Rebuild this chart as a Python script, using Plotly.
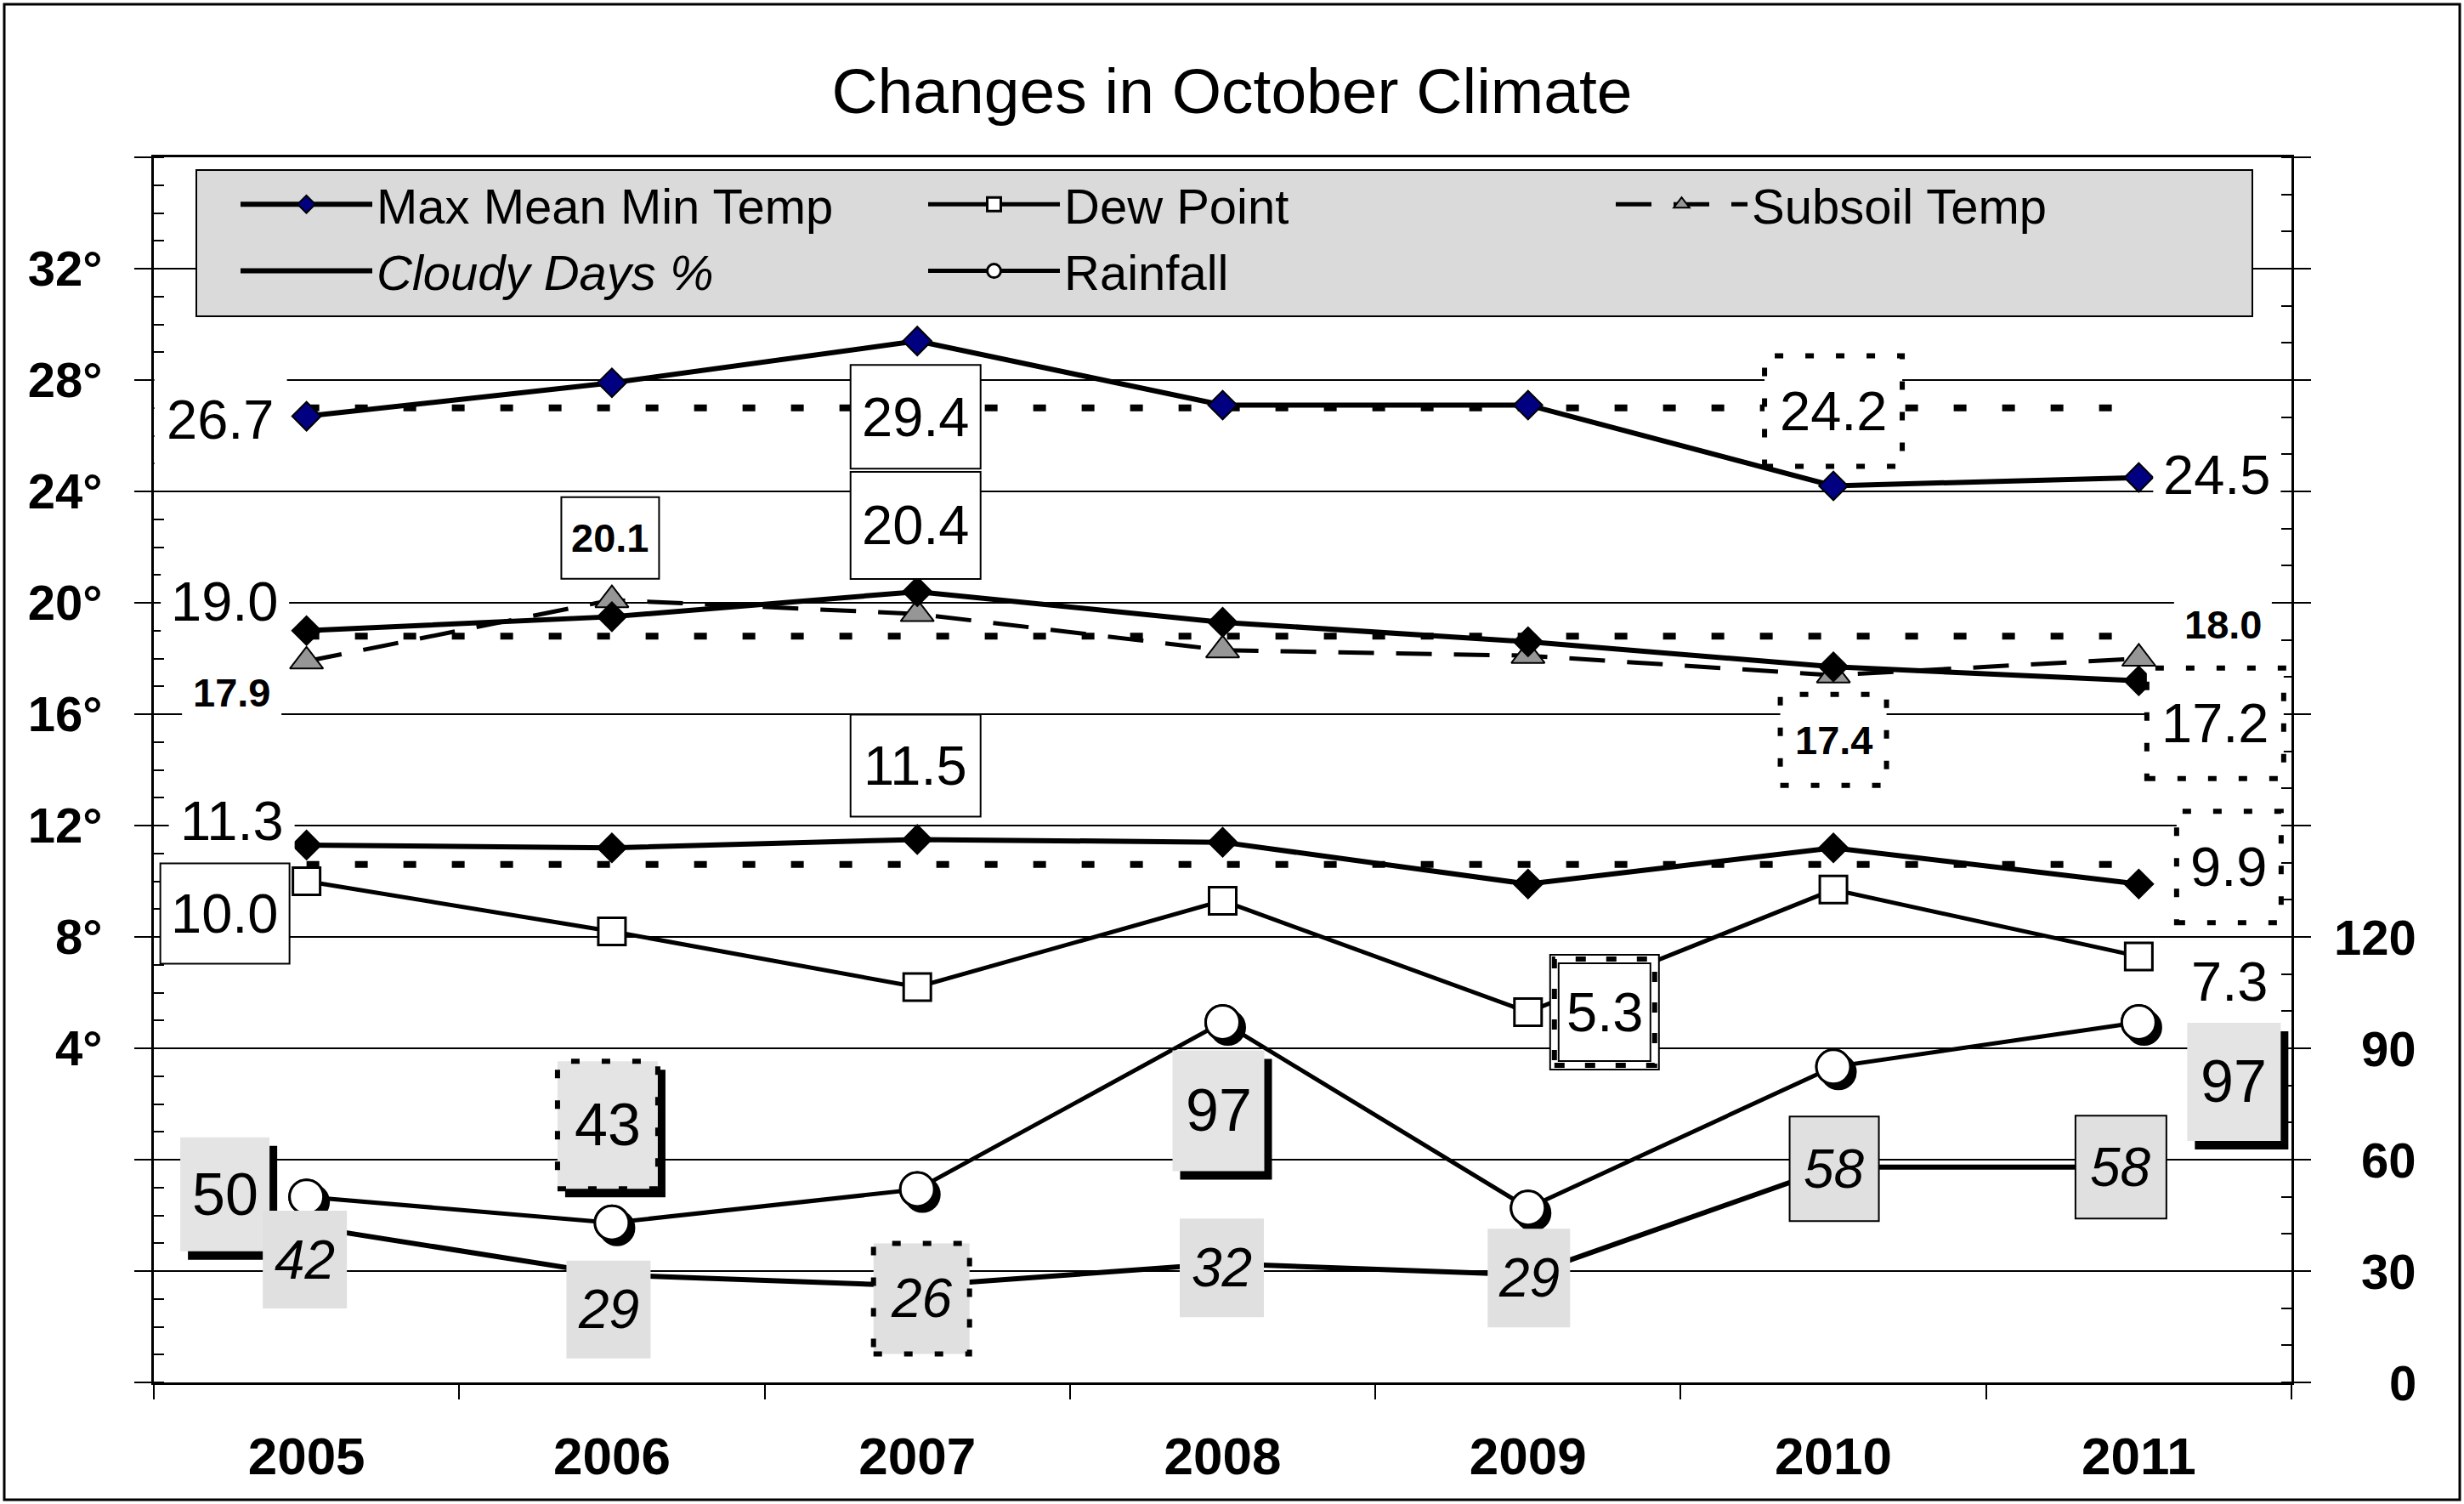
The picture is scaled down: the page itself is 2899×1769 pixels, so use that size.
import plotly.graph_objects as go

# ---------------- data ----------------
years = ["2005", "2006", "2007", "2008", "2009", "2010", "2011"]
max_temp = [26.7, 27.9, 29.4, 27.1, 27.1, 24.2, 24.5]
mean_temp = [19.0, 19.5, 20.4, 19.3, 18.6, 17.7, 17.2]
min_temp = [11.3, 11.2, 11.5, 11.4, 9.9, 11.2, 9.9]
dew_point = [10.0, 8.2, 6.2, 9.3, 5.3, 9.7, 7.3]
subsoil_temp = [17.9, 20.1, 19.6, 18.3, 18.1, 17.4, 18.0]
cloudy_days = [42, 29, 26, 32, 29, 58, 58]
rainfall = [50, 43, 52, 97, 47, 85, 97]
normal_max = 27.0
normal_mean = 18.8
normal_min = 10.6
left_ticks = [-8, -4, 0, 4, 8, 12, 16, 20, 24, 28, 32, 36]
left_labeled = [4, 8, 12, 16, 20, 24, 28, 32]
right_ticks = [0, 30, 60, 90, 120, 150, 180, 210, 240, 270, 300, 330]
right_labeled = [0, 30, 60, 90, 120]

FONT = "Liberation Sans"
NAVY = "#000080"
GRAY_TRI = "#969696"
LEG_BG = "#dadada"
CLOUD_BG = "#e0e0e0"
RAIN_BG = "#e4e4e4"

X_RANGE = [-0.5, 6.5]
Y_RANGE = [-8, 36]
Y2_RANGE = [0, 330]
PLOT_W = 2515
PLOT_H = 1441
SHADOW_PX = 6  # drop-shadow offset of the rainfall circles

fig = go.Figure()

# normal (dotted) lines
for val in (normal_max, normal_mean, normal_min):
    fig.add_trace(go.Scatter(x=years, y=[val] * len(years), mode="lines",
                             line=dict(color="black", width=8, dash="15px,42px"),
                             showlegend=False, hoverinfo="skip"))

# cloudy days (right axis)
fig.add_trace(go.Scatter(x=years, y=cloudy_days, yaxis="y2", mode="lines",
                         name="<i>Cloudy Days %</i>", legendrank=4,
                         line=dict(color="black", width=6)))
# rainfall line (right axis) - also carries the legend entry
fig.add_trace(go.Scatter(x=years, y=rainfall, yaxis="y2", mode="lines+markers",
                         name="Rainfall", legendrank=5,
                         line=dict(color="black", width=5),
                         marker=dict(symbol="circle", size=40, color="white",
                                     line=dict(color="black", width=3))))
# rainfall marker shadow (offset overlay axes)
fig.add_trace(go.Scatter(x=years, y=rainfall, xaxis="x2", yaxis="y3", mode="markers",
                         showlegend=False, hoverinfo="skip",
                         marker=dict(symbol="circle", size=40, color="black",
                                     line=dict(color="black", width=3))))
# rainfall markers drawn again above the shadow
fig.add_trace(go.Scatter(x=years, y=rainfall, xaxis="x3", yaxis="y4", mode="markers",
                         showlegend=False,
                         marker=dict(symbol="circle", size=40, color="white",
                                     line=dict(color="black", width=3))))
# dew point
fig.add_trace(go.Scatter(x=years, y=dew_point, mode="lines+markers",
                         name="Dew Point", legendrank=2,
                         line=dict(color="black", width=5),
                         marker=dict(symbol="square", size=32, color="white",
                                     line=dict(color="black", width=3))))
# subsoil
fig.add_trace(go.Scatter(x=years, y=subsoil_temp, mode="lines+markers",
                         name="Subsoil Temp", legendrank=3,
                         line=dict(color="black", width=5, dash="42px,26px"),
                         marker=dict(symbol="triangle-up", size=34, color=GRAY_TRI,
                                     line=dict(color="black", width=2))))
# min & mean
for series in (min_temp, mean_temp):
    fig.add_trace(go.Scatter(x=years, y=series, mode="lines+markers",
                             showlegend=False,
                             line=dict(color="black", width=6),
                             marker=dict(symbol="diamond", size=26, color="black",
                                         line=dict(color="black", width=2))))
# max
fig.add_trace(go.Scatter(x=years, y=max_temp, mode="lines+markers",
                         name="Max Mean Min Temp", legendrank=1,
                         line=dict(color="black", width=6),
                         marker=dict(symbol="diamond", size=26, color=NAVY,
                                     line=dict(color="black", width=2))))


# ---------------- labels ----------------
def add_box(xi, y, yref, dx, dy, w, h, fill, lcolor="black", lwidth=0, dash="solid"):
    fig.add_shape(type="rect", xref="x", yref=yref, xsizemode="pixel", ysizemode="pixel",
                  xanchor=xi, yanchor=y, x0=dx - w / 2, x1=dx + w / 2,
                  y0=dy - h / 2, y1=dy + h / 2, fillcolor=fill, layer="above",
                  line=dict(color=lcolor if lwidth else "rgba(0,0,0,0)",
                            width=lwidth, dash=dash))


def add_text(xi, y, yref, text, dx, dy, size=65, bold=False, italic=False):
    t = text
    if bold:
        t = "<b>" + t + "</b>"
    if italic:
        t = "<i>" + t + "</i>"
    fig.add_annotation(x=xi, y=y, xref="x", yref=yref, text=t, showarrow=False,
                       xshift=dx, yshift=dy, xanchor="center", yanchor="middle",
                       font=dict(family=FONT, size=size, color="black"))


def label(i, series, yref, fmt, dx, dy, w, h, style, size=65, bold=False, italic=False,
          shadow=False, fill="white"):
    y = series[i]
    text = fmt.format(y)
    if shadow:
        add_box(i, y, yref, dx + 9, dy - 10, w, h, "black")
    if style == "plain":
        add_box(i, y, yref, dx, dy, w, h, fill)
    elif style == "solid":
        add_box(i, y, yref, dx, dy, w, h, fill, lwidth=2)
    elif style == "dotted":
        add_box(i, y, yref, dx, dy, w, h, fill, lwidth=6, dash="10px,26px")
    elif style == "double":
        add_box(i, y, yref, dx, dy, w, h, fill, lwidth=2)
        add_box(i, y, yref, dx, dy, w - 10, h - 10, "rgba(0,0,0,0)", lwidth=6, dash="12px,24px")
        add_box(i, y, yref, dx, dy, w - 20, h - 20, "rgba(0,0,0,0)", lwidth=2)
    add_text(i, y, yref, text, dx, dy, size=size, bold=bold, italic=italic)


f1 = "{:.1f}"
f0 = "{:.0f}"
# max
label(0, max_temp, "y", f1, -101, -4, 156, 110, "plain")
label(2, max_temp, "y", f1, -2, -89, 153, 122, "solid")
label(5, max_temp, "y", f1, 0, 88, 162, 130, "dotted")
label(6, max_temp, "y", f1, 92, 3, 150, 100, "plain")
# mean
label(0, mean_temp, "y", f1, -96, 34, 151, 110, "plain")
label(2, mean_temp, "y", f1, -2, 78, 153, 126, "solid")
label(6, mean_temp, "y", f1, 90, -50, 161, 130, "dotted")
# subsoil
label(0, subsoil_temp, "y", f1, -88, -37, 117, 80, "plain", size=47, bold=True)
label(1, subsoil_temp, "y", f1, -2, 73, 115, 96, "solid", size=47, bold=True)
label(5, subsoil_temp, "y", f1, 0, -76, 125, 107, "dotted", size=47, bold=True)
label(6, subsoil_temp, "y", f1, 99, 40, 115, 75, "plain", size=47, bold=True)
# min
label(0, min_temp, "y", f1, -88, 28, 148, 100, "plain")
label(2, min_temp, "y", f1, -2, 87, 153, 120, "solid")
label(6, min_temp, "y", f1, 106, 20, 123, 131, "dotted")
# dew point
label(0, dew_point, "y", f1, -96, -38, 152, 118, "solid")
label(4, dew_point, "y", f1, 90, 0, 128, 135, "double")
label(6, dew_point, "y", f1, 107, -30, 113, 85, "plain")
# rainfall
label(0, rainfall, "y2", f0, -96, 3, 105, 134, "plain", size=70, shadow=True, fill=RAIN_BG)
label(1, rainfall, "y2", f0, -5, 115, 118, 150, "dotted", size=70, shadow=True, fill=RAIN_BG)
label(3, rainfall, "y2", f0, -5, -104, 108, 142, "plain", size=70, shadow=True, fill=RAIN_BG)
label(6, rainfall, "y2", f0, 112, -70, 110, 139, "plain", size=70, shadow=True, fill=RAIN_BG)
# cloudy
label(0, cloudy_days, "y2", f0, -2, -39, 99, 115, "plain", size=64, italic=True, fill=CLOUD_BG)
label(1, cloudy_days, "y2", f0, -4, -41, 99, 115, "plain", size=64, italic=True, fill=CLOUD_BG)
label(2, cloudy_days, "y2", f0, 5, -15, 113, 130, "dotted", size=64, italic=True, fill=CLOUD_BG)
label(3, cloudy_days, "y2", f0, -1, -5, 99, 116, "plain", size=64, italic=True, fill=CLOUD_BG)
label(4, cloudy_days, "y2", f0, 1, -4, 97, 116, "plain", size=64, italic=True, fill=CLOUD_BG)
label(5, cloudy_days, "y2", f0, 1, -2, 105, 123, "solid", size=64, italic=True, fill=CLOUD_BG)
label(6, cloudy_days, "y2", f0, -21, 0, 107, 121, "solid", size=64, italic=True, fill=CLOUD_BG)

# right axis labels (right-aligned)
for v in right_labeled:
    fig.add_annotation(x=1, xref="paper", y=v, yref="y2", text="<b>%d</b>" % v,
                       showarrow=False, xanchor="right", yanchor="middle",
                       xshift=149, font=dict(family=FONT, size=58, color="black"))

# legend box
fig.add_shape(type="rect", xref="paper", yref="paper",
              x0=(231 - 181) / PLOT_W, x1=(2650 - 181) / PLOT_W,
              y0=(1626 - 372) / PLOT_H, y1=(1626 - 200) / PLOT_H,
              line=dict(color="black", width=2), fillcolor=LEG_BG, layer="above")

# outer border
fig.add_shape(type="rect", xref="paper", yref="paper",
              x0=(5 - 181) / PLOT_W, x1=(2894 - 181) / PLOT_W,
              y0=(1626 - 1764) / PLOT_H, y1=(1626 - 5) / PLOT_H,
              line=dict(color="black", width=3), fillcolor="rgba(0,0,0,0)", layer="below")

ex = SHADOW_PX * (X_RANGE[1] - X_RANGE[0]) / PLOT_W
ey = SHADOW_PX * (Y2_RANGE[1] - Y2_RANGE[0]) / PLOT_H

fig.update_layout(
    width=2899, height=1769,
    margin=dict(l=181, r=203, t=185, b=143),
    paper_bgcolor="white", plot_bgcolor="white",
    font=dict(family=FONT, color="black"),
    title=dict(text="Changes in October Climate", x=0.5, xref="container", xanchor="center",
               y=1 - 107 / 1769, yanchor="middle",
               font=dict(family=FONT, size=75, color="black")),
    showlegend=True,
    legend=dict(orientation="h", x=(278 - 181) / PLOT_W, y=1 - (196 - 185) / PLOT_H,
                xanchor="left", yanchor="top", bgcolor="rgba(0,0,0,0)",
                borderwidth=0, font=dict(family=FONT, size=58, color="black"),
                itemwidth=155, entrywidthmode="pixels", entrywidth=639,
                traceorder="normal", itemclick=False),
    xaxis=dict(type="category", categoryorder="array", categoryarray=years,
               range=X_RANGE, showline=True, linecolor="black", linewidth=3,
               mirror=True, ticks="outside", tickson="boundaries", ticklen=17,
               tickwidth=2, tickcolor="black", showgrid=False, zeroline=False,
               ticklabelstandoff=31,
               tickfont=dict(family=FONT, size=62, color="black", weight="bold")),
    xaxis2=dict(type="category", categoryorder="array", categoryarray=years,
                overlaying="x", range=[X_RANGE[0] - ex, X_RANGE[1] - ex], visible=False),
    xaxis3=dict(type="category", categoryorder="array", categoryarray=years,
                overlaying="x", range=X_RANGE, visible=False),
    yaxis=dict(range=Y_RANGE, tickmode="array", tickvals=left_ticks,
               ticktext=[("%d°" % v if v in left_labeled else "") for v in left_ticks],
               showline=True, linecolor="black", linewidth=3, ticks="outside",
               ticklen=20, tickwidth=2, tickcolor="black", showgrid=True,
               gridcolor="black", gridwidth=2, zeroline=False, ticklabelstandoff=26,
               tickfont=dict(family=FONT, size=58, color="black", weight="bold"),
               minor=dict(tickmode="linear", tick0=0, dtick=1, ticks="inside",
                          ticklen=12, tickwidth=2, tickcolor="black", showgrid=False)),
    yaxis2=dict(range=Y2_RANGE, overlaying="y", side="right", tickmode="array",
                tickvals=right_ticks, showticklabels=False,
                showline=True, linecolor="black", linewidth=3, ticks="outside",
                ticklen=20, tickwidth=2, tickcolor="black", showgrid=False, zeroline=False,
                minor=dict(tickmode="linear", tick0=0, dtick=10, ticks="inside",
                           ticklen=12, tickwidth=2, tickcolor="black", showgrid=False)),
    yaxis3=dict(range=[Y2_RANGE[0] + ey, Y2_RANGE[1] + ey], overlaying="y", visible=False),
    yaxis4=dict(range=Y2_RANGE, overlaying="y", visible=False),
)

fig.write_html("out.html", config={"displayModeBar": False},
               post_script="document.body.style.margin='0';document.body.style.overflow='hidden';")
